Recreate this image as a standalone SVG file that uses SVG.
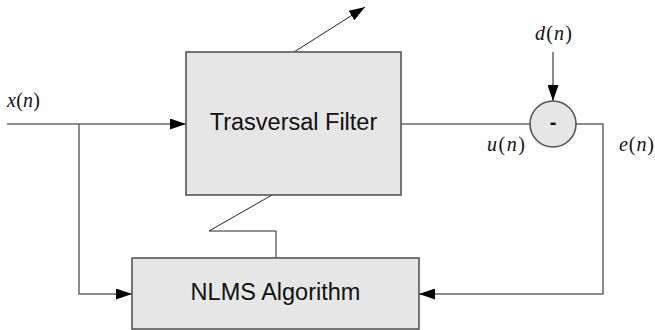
<svg xmlns="http://www.w3.org/2000/svg" width="655" height="330" viewBox="0 0 655 330">
<defs>
<marker id="ah" markerWidth="16" markerHeight="11" refX="16" refY="5.5" orient="auto" markerUnits="userSpaceOnUse">
<path d="M0,0 L16,5.5 L0,11 Z" fill="#000"/>
</marker>
<style>
.box{fill:#e6e6e6;stroke:#555;stroke-width:1.6}
.ln{fill:none;stroke:#666;stroke-width:1.5}
.thin{fill:none;stroke:#222;stroke-width:1}
.lbl{font-family:"Liberation Sans",Arial,sans-serif;font-size:23.5px;fill:#111;text-anchor:middle}
.math{font-family:"Liberation Serif","Times New Roman",serif;font-size:20px;fill:#111}
</style>
</defs>
<rect width="655" height="330" fill="#fff"/>
<g id="connectors">
<path class="ln" d="M7,124 H186" marker-end="url(#ah)"/>
<path class="ln" d="M79,124 V294 H132" marker-end="url(#ah)"/>
<path class="ln" d="M401,124 H530"/>
<path class="ln" d="M576,124 H603 V294 H419" marker-end="url(#ah)"/>
<path class="ln" d="M553,52 V101" marker-end="url(#ah)"/>
<path class="thin" d="M294,52 L365,7" marker-end="url(#ah)"/>
<path class="thin" d="M272,195 L209,231 H276 V258"/>
</g>
<g id="filter">
<rect class="box" x="186" y="52" width="215" height="143"/>
<text class="lbl" x="293.5" y="130">Trasversal Filter</text>
</g>
<g id="nlms">
<rect class="box" x="132" y="258" width="287" height="71"/>
<text class="lbl" x="275.5" y="300">NLMS Algorithm</text>
</g>
<g id="sum">
<circle class="box" cx="553" cy="124" r="23"/>
<text class="lbl" x="553" y="129" style="font-size:20px;font-weight:bold">-</text>
</g>
<g id="labels">
<text class="math" x="7" y="107" textLength="33"><tspan font-style="italic">x</tspan>(<tspan font-style="italic">n</tspan>)</text>
<text class="math" x="535" y="40" textLength="37"><tspan font-style="italic">d</tspan>(<tspan font-style="italic">n</tspan>)</text>
<text class="math" x="487" y="151" textLength="38"><tspan font-style="italic">u</tspan>(<tspan font-style="italic">n</tspan>)</text>
<text class="math" x="619" y="151" textLength="35"><tspan font-style="italic">e</tspan>(<tspan font-style="italic">n</tspan>)</text>
</g>
</svg>
